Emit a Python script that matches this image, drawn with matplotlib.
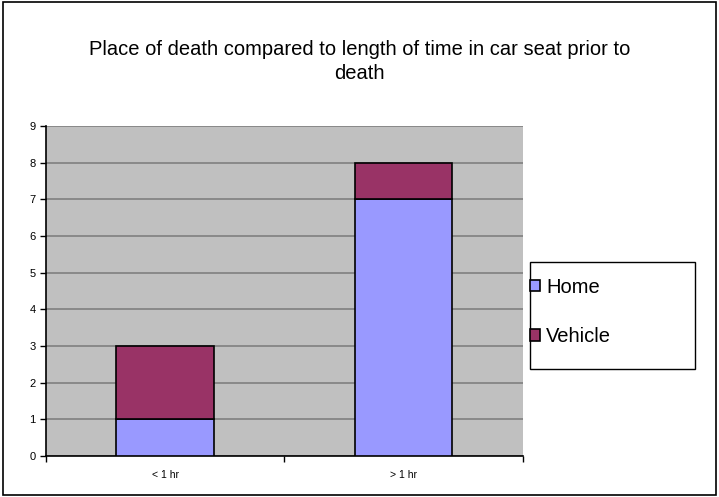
import matplotlib.pyplot as plt
from matplotlib.patches import Rectangle
import numpy as np

categories = ['< 1 hr', '> 1 hr']
home = [1, 7]
vehicle = [2, 1]
yticks = list(range(0, 10))

plt.rcParams['font.family'] = ['Liberation Sans', 'DejaVu Sans']

fig = plt.figure(figsize=(7.19, 4.97), dpi=100)
ax = fig.add_axes([0.064, 0.0825, 0.663, 0.664])
ax.set_facecolor('#C0C0C0')

x = np.arange(len(categories))
b1 = ax.bar(x, home, width=0.41, color='#9999FF', edgecolor='black', linewidth=1.2, label='Home', zorder=3)
b2 = ax.bar(x, vehicle, width=0.41, bottom=home, color='#993366', edgecolor='black', linewidth=1.2, label='Vehicle', zorder=3)

ax.set_xlim(-0.5, 1.5)
ax.set_ylim(0, 9)
ax.set_yticks(yticks)
ax.yaxis.grid(True, color='#808080', linewidth=1.2, zorder=1)
ax.set_axisbelow(True)
ax.tick_params(axis='y', labelsize=8, length=4, direction='out', width=1)
ax.set_xticks(x)
ax.set_xticklabels(categories, fontsize=7.5)
ax.tick_params(axis='x', which='major', length=0, pad=10)
ax.set_xticks([-0.5, 0.5, 1.5], minor=True)
ax.tick_params(axis='x', which='minor', length=4, direction='out', width=1)
for s in ['top', 'right']:
    ax.spines[s].set_visible(False)
ax.spines['left'].set_linewidth(1.2)
ax.spines['bottom'].set_linewidth(1.2)

fig.text(0.5, 0.877, 'Place of death compared to length of time in car seat prior to\ndeath',
         ha='center', va='center', fontsize=14.5, linespacing=1.35)

# legend box
fig.patches.append(Rectangle((530 / 719, 1 - 369 / 497), 165 / 719, 107 / 497,
                             transform=fig.transFigure, facecolor='white',
                             edgecolor='black', linewidth=1, zorder=1))
leg = fig.legend(handles=[b1, b2], labels=['Home', 'Vehicle'],
                 loc='center left', bbox_to_anchor=(530 / 719, 1 - 312 / 497),
                 fontsize=14.5, frameon=False,
                 handlelength=0.5, handleheight=0.5, handletextpad=0.3,
                 borderpad=0, labelspacing=1.5, borderaxespad=0)
leg.set_zorder(5)

fig.patches.append(Rectangle((0.004, 0.004), 0.992, 0.992, transform=fig.transFigure,
                             fill=False, edgecolor='black', linewidth=1.2))

fig.savefig('out.png', dpi=100)
